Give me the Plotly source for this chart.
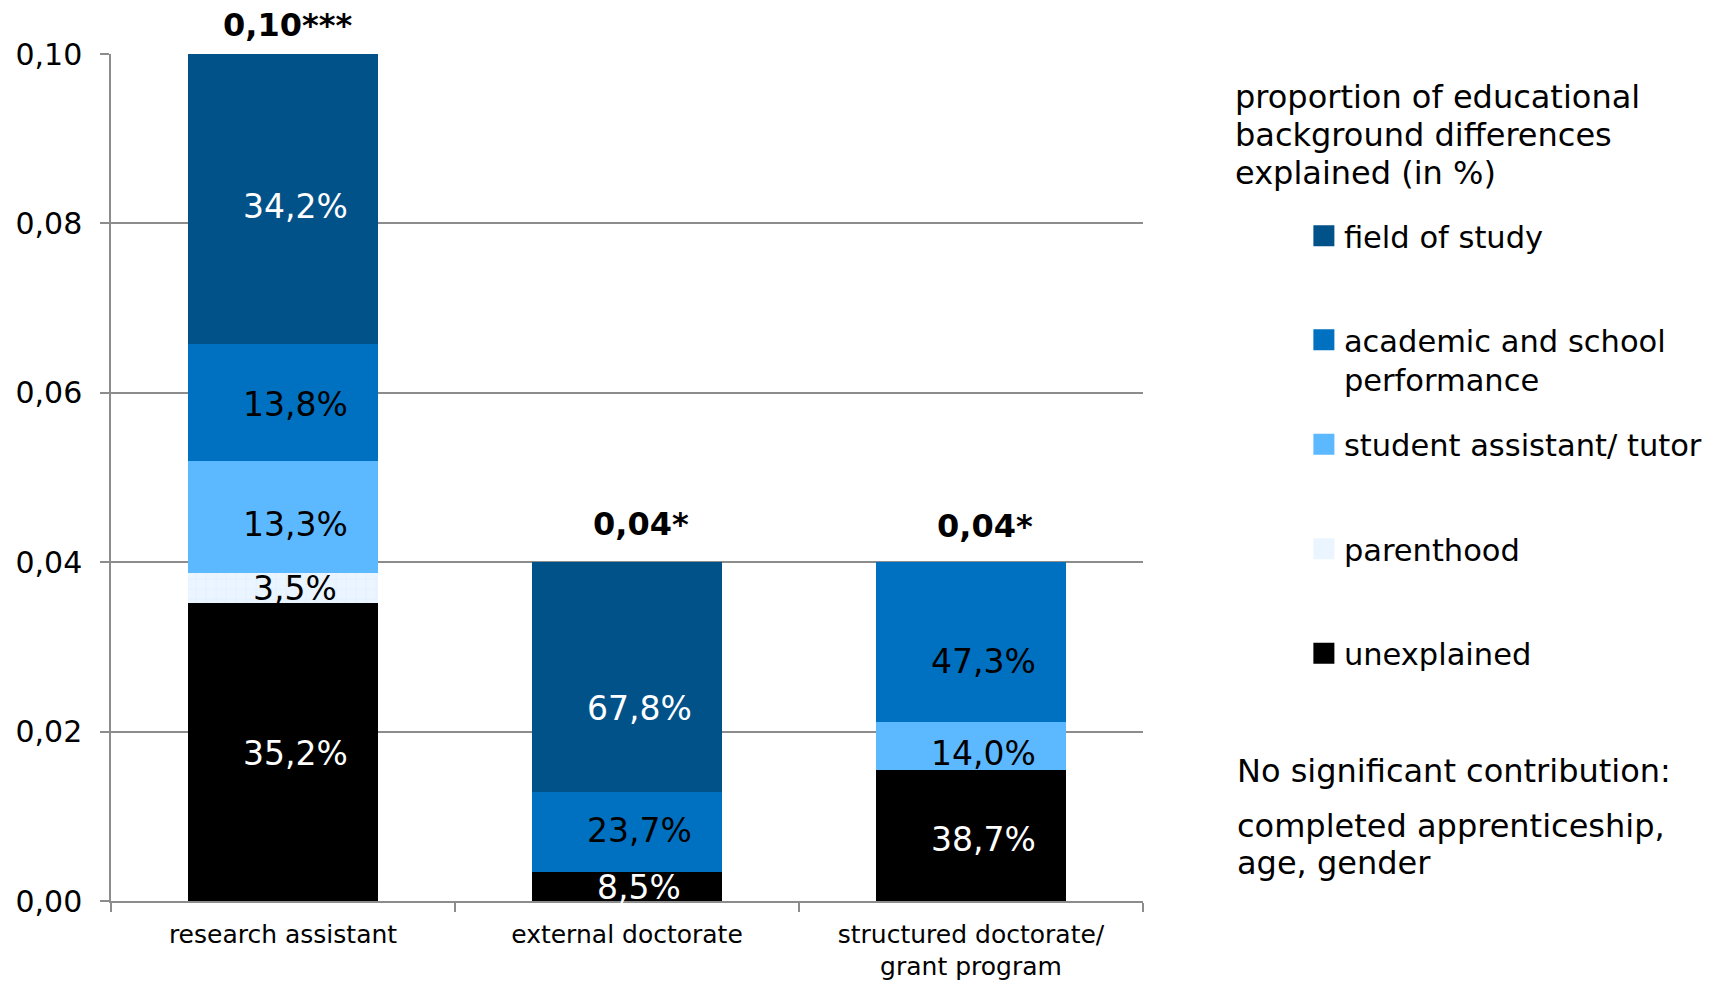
import plotly.graph_objects as go

# ---- data -------------------------------------------------------------
categories = ["research assistant", "external doctorate", "structured doctorate/<br>grant program"]
gap_totals = [0.10, 0.04, 0.04]
total_labels = ["0,10***", "0,04*", "0,04*"]

# share of each total gap (in %) attributed to each factor, bottom to top
unexplained = [35.2, 8.5, 38.7]
parenthood = [3.5, None, None]
student_assistant = [13.3, None, 14.0]
academic_performance = [13.8, 23.7, 47.3]
field_of_study = [34.2, 67.8, None]

series_names = ["unexplained", "parenthood", "student assistant/ tutor",
                "academic and school<br>performance", "field of study"]
series_shares = [unexplained, parenthood, student_assistant, academic_performance, field_of_study]

legend_title_lines = ["proportion of educational", "background differences", "explained (in %)"]
note_lines = ["No significant contribution:", "completed apprenticeship,", "age, gender"]

# ---- styles -----------------------------------------------------------
FONT = "DejaVu Sans, Verdana, sans-serif"
fills = ["#000000", "#EAF5FF", "#5CB9FF", "#0070C0", "#02528A"]
label_colors = ["white", "black", "black", "black", "white"]
GRID = "#8C8C8C"

# downward nudges (px) of the segment labels, per series and category
label_drop = [[2, 1, 4], [0, 0, 0], [8, 0, 7], [2, -2, 19], [8, 31, 0]]
total_yshift = [29, 38, 36]
total_xshift = [4, 14, 14]

fig = go.Figure()

# stacked segments: each share is converted to its part of the category's total gap
bases = [0.0] * len(categories)
label_annotations = []
for k, (name, shares, fill, lc) in enumerate(zip(series_names, series_shares, fills, label_colors)):
    heights = [None if s is None else t * s / 100 for s, t in zip(shares, gap_totals)]
    marker = dict(color=fill, line=dict(width=0))
    if name == "parenthood":
        marker["pattern"] = dict(shape="+", fgcolor="#D3E8FB", bgcolor=fill, size=10, solidity=0.12)
    fig.add_trace(go.Bar(x=categories, y=heights, name=name, marker=marker,
                         showlegend=False, hoverinfo="skip"))
    for i, (h, s) in enumerate(zip(heights, shares)):
        if h is None:
            continue
        label_annotations.append(dict(
            x=categories[i], y=bases[i] + h / 2, xref="x", yref="y",
            text=f"{s:.1f}%".replace(".", ","), showarrow=False,
            xshift=12, yshift=-label_drop[k][i],
            font=dict(family=FONT, size=33, color=lc)))
        bases[i] += h

# legend entries, each placed in its own legend box
legend_ids = ["legend5", "legend4", "legend3", "legend2", "legend"]
for name, fill, lid in zip(series_names, fills, legend_ids):
    fig.add_trace(go.Scatter(
        x=[None], y=[None], mode="markers", name=name, legend=lid,
        marker=dict(symbol="square", size=16, color=fill, line=dict(color=fill, width=5)),
        hoverinfo="skip"))

# totals above the bars
total_annotations = [
    dict(x=c, y=t, xref="x", yref="y", text=f"<b>{lbl}</b>", showarrow=False,
         yanchor="middle", yshift=ys, xshift=xs,
         font=dict(family=FONT, size=32, color="black"))
    for c, t, lbl, ys, xs in zip(categories, gap_totals, total_labels, total_yshift, total_xshift)
]


def px_to_paper_y(py):
    return (901 - py) / 847


side_annotations = []
for line, cy in zip(legend_title_lines, [96.7, 134.8, 172.9]):
    side_annotations.append(dict(
        x=1.0869, y=px_to_paper_y(cy), xref="paper", yref="paper", xanchor="left",
        yanchor="middle", align="left", showarrow=False, text=line,
        font=dict(family=FONT, size=32, color="black")))
for line, cy in zip(note_lines, [771, 826.3, 863.1]):
    side_annotations.append(dict(
        x=1.0889, y=px_to_paper_y(cy), xref="paper", yref="paper", xanchor="left",
        yanchor="middle", align="left", showarrow=False, text=line,
        font=dict(family=FONT, size=32, color="black")))

legend_font = dict(family=FONT, size=30.5, color="black")
legend_centers = [233.5, 337.5, 442, 546.5, 651]  # first-line centres, px from top


def legend_box(center_px):
    return dict(x=1.1559, y=px_to_paper_y(center_px - 24), xanchor="left", yanchor="top",
                font=legend_font, bgcolor="rgba(0,0,0,0)", borderwidth=0,
                itemsizing="trace", valign="top", itemclick=False, itemdoubleclick=False)


fig.update_layout(
    width=1718, height=983,
    margin=dict(l=111, r=575, t=54, b=82, autoexpand=False),
    paper_bgcolor="white", plot_bgcolor="white",
    barmode="stack", bargap=0.45,
    separators=", ",
    font=dict(family=FONT, color="black"),
    legend=legend_box(legend_centers[0]),
    legend2=legend_box(legend_centers[1]),
    legend3=legend_box(legend_centers[2]),
    legend4=legend_box(legend_centers[3]),
    legend5=legend_box(legend_centers[4]),
    annotations=label_annotations + total_annotations + side_annotations,
    xaxis=dict(
        type="category", showline=True, linecolor=GRID, linewidth=1.5,
        ticks="outside", tickson="boundaries", ticklen=9, tickcolor=GRID, tickwidth=1.5,
        showgrid=False, tickfont=dict(family=FONT, size=25, color="black"),
        ticklabelstandoff=10, automargin=False,
    ),
    yaxis=dict(
        range=[0, 0.10], dtick=0.02, tickformat=".2f",
        showline=True, linecolor=GRID, linewidth=1.5,
        ticks="outside", ticklen=9, tickcolor=GRID, tickwidth=1.5,
        showgrid=True, gridcolor=GRID, gridwidth=1.5, zeroline=False,
        tickfont=dict(family=FONT, size=30, color="black"), ticklabelstandoff=12,
        automargin=False,
    ),
)

fig.write_html("out.html")
